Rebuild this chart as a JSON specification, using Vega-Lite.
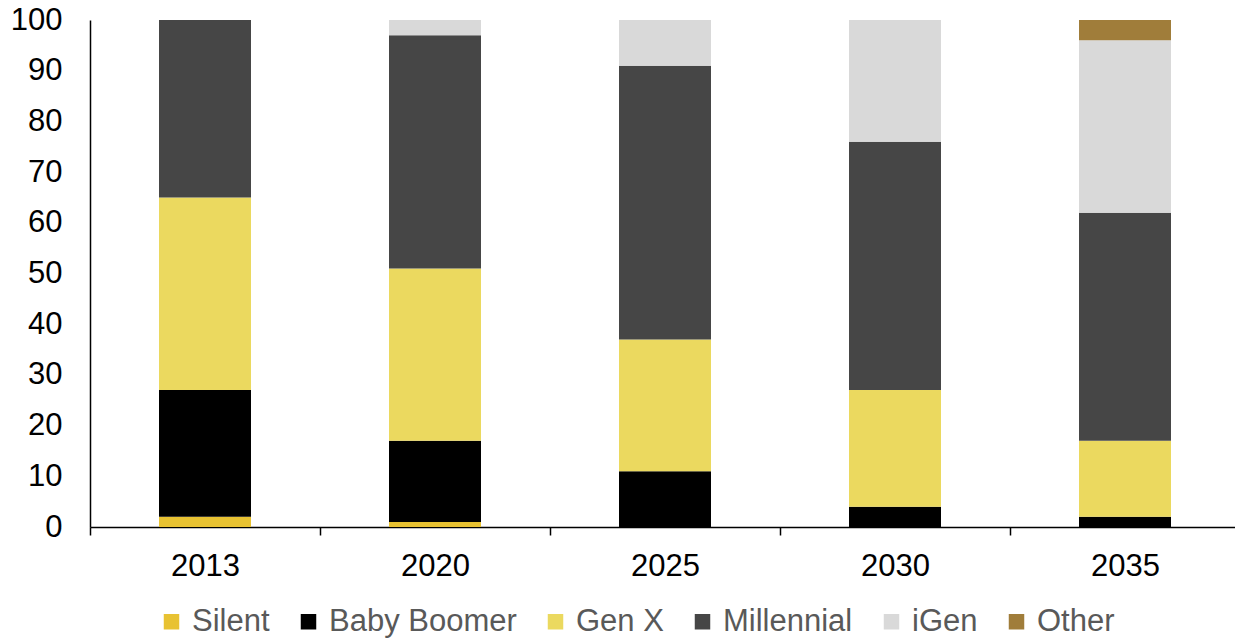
{
  "$schema": "https://vega.github.io/schema/vega-lite/v6.json",
  "autosize": {"type": "none"},
  "padding": {"left": 90, "top": 20, "right": 0, "bottom": 112},
  "width": 1150,
  "height": 507,
  "background": "white",
  "config": {
    "view": {"stroke": null},
    "font": "Liberation Sans"
  },
  "data": {
    "values": [
      {"year": "2013", "gen": "Silent", "rank": 1, "value": 2},
      {"year": "2013", "gen": "Baby Boomer", "rank": 2, "value": 25},
      {"year": "2013", "gen": "Gen X", "rank": 3, "value": 38},
      {"year": "2013", "gen": "Millennial", "rank": 4, "value": 35},
      {"year": "2020", "gen": "Silent", "rank": 1, "value": 1},
      {"year": "2020", "gen": "Baby Boomer", "rank": 2, "value": 16},
      {"year": "2020", "gen": "Gen X", "rank": 3, "value": 34},
      {"year": "2020", "gen": "Millennial", "rank": 4, "value": 46},
      {"year": "2020", "gen": "iGen", "rank": 5, "value": 3},
      {"year": "2025", "gen": "Baby Boomer", "rank": 2, "value": 11},
      {"year": "2025", "gen": "Gen X", "rank": 3, "value": 26},
      {"year": "2025", "gen": "Millennial", "rank": 4, "value": 54},
      {"year": "2025", "gen": "iGen", "rank": 5, "value": 9},
      {"year": "2030", "gen": "Baby Boomer", "rank": 2, "value": 4},
      {"year": "2030", "gen": "Gen X", "rank": 3, "value": 23},
      {"year": "2030", "gen": "Millennial", "rank": 4, "value": 49},
      {"year": "2030", "gen": "iGen", "rank": 5, "value": 24},
      {"year": "2035", "gen": "Baby Boomer", "rank": 2, "value": 2},
      {"year": "2035", "gen": "Gen X", "rank": 3, "value": 15},
      {"year": "2035", "gen": "Millennial", "rank": 4, "value": 45},
      {"year": "2035", "gen": "iGen", "rank": 5, "value": 34},
      {"year": "2035", "gen": "Other", "rank": 6, "value": 4}
    ]
  },
  "mark": {"type": "bar", "width": {"band": 0.4}},
  "encoding": {
    "x": {
      "field": "year",
      "type": "nominal",
      "scale": {"paddingInner": 0, "paddingOuter": 0},
      "axis": {
        "title": null,
        "labelAngle": 0,
        "labelFontSize": 31,
        "labelColor": "#000000",
        "labelPadding": 16,
        "tickBand": "extent",
        "tickSize": 8,
        "tickColor": "#000000",
        "tickWidth": 1.5,
        "domainColor": "#000000",
        "domainWidth": 1.5
      }
    },
    "y": {
      "field": "value",
      "type": "quantitative",
      "stack": "zero",
      "scale": {"domain": [0, 100], "nice": false},
      "axis": {
        "title": null,
        "values": [0, 10, 20, 30, 40, 50, 60, 70, 80, 90, 100],
        "grid": false,
        "ticks": false,
        "tickSize": 0,
        "labelFontSize": 31,
        "labelColor": "#000000",
        "labelPadding": 28,
        "domainColor": "#000000",
        "domainWidth": 1.5
      }
    },
    "order": {"field": "rank", "type": "quantitative", "sort": "ascending"},
    "color": {
      "field": "gen",
      "type": "nominal",
      "scale": {
        "domain": ["Silent", "Baby Boomer", "Gen X", "Millennial", "iGen", "Other"],
        "range": ["#E8C232", "#000000", "#EBD95F", "#464646", "#D9D9D9", "#A07D3A"]
      },
      "legend": {
        "title": null,
        "orient": "none",
        "legendX": 66,
        "legendY": 586,
        "direction": "horizontal",
        "columns": 6,
        "symbolType": "square",
        "symbolSize": 240,
        "symbolStrokeWidth": 0,
        "labelFontSize": 31,
        "labelLimit": 400,
        "labelColor": "#595959",
        "labelOffset": 5,
        "columnPadding": 23
      }
    }
  }
}
